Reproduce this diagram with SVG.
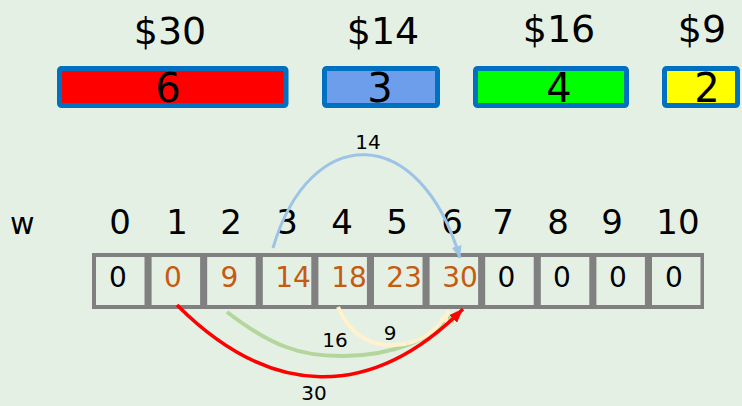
<svg xmlns="http://www.w3.org/2000/svg" width="742" height="406" viewBox="0 0 742 406">
<style>
  text { font-family: "DejaVu Sans", Verdana, sans-serif; fill: #000; }
  .price { font-size: 38px; text-anchor: middle; }
  .item { stroke: #0070C0; stroke-width: 5; }
  .wt { font-size: 40px; text-anchor: middle; }
  .idx { font-size: 34px; text-anchor: middle; }
  .val { font-size: 28px; text-anchor: middle; }
  .or { fill: #C55A11; }
  .cell { fill: #E5F0E4; }
  .lbl { font-size: 20px; text-anchor: middle; }
  .arc { fill: none; stroke-linecap: butt; }
</style>
<defs>
  <marker id="mBlue" viewBox="0 0 12 10" refX="12" refY="5" markerWidth="12" markerHeight="10" markerUnits="userSpaceOnUse" orient="auto"><path d="M0,0 L12,5 L0,10 z" fill="#9DC3E6"/></marker>
  <marker id="mRed" viewBox="0 0 14 11" refX="14" refY="5.5" markerWidth="14" markerHeight="11" markerUnits="userSpaceOnUse" orient="auto"><path d="M0,0 L14,5.5 L0,11 z" fill="#FF0000"/></marker>
  <marker id="mGreen" viewBox="0 0 12 10" refX="12" refY="5" markerWidth="12" markerHeight="10" markerUnits="userSpaceOnUse" orient="auto"><path d="M0,0 L12,5 L0,10 z" fill="#B4D69C"/></marker>
  <marker id="mCream" viewBox="0 0 12 10" refX="12" refY="5" markerWidth="12" markerHeight="10" markerUnits="userSpaceOnUse" orient="auto"><path d="M0,0 L12,5 L0,10 z" fill="#FFF2CC"/></marker>
</defs>
<rect x="0" y="0" width="742" height="406" fill="#E5F0E4"/>

<g id="item-red">
  <text class="price" x="170" y="44">$30</text>
  <rect class="item" x="59.5" y="68.5" width="226.5" height="37" rx="2" fill="#FF0000"/>
  <text class="wt" x="168" y="102">6</text>
</g>
<g id="item-blue">
  <text class="price" x="383" y="44">$14</text>
  <rect class="item" x="324.5" y="68.5" width="113" height="37" rx="2" fill="#6D9EEB"/>
  <text class="wt" x="380" y="102">3</text>
</g>
<g id="item-green">
  <text class="price" x="559" y="42">$16</text>
  <rect class="item" x="475.5" y="68.5" width="151" height="37" rx="2" fill="#00FF00"/>
  <text class="wt" x="559" y="102">4</text>
</g>
<g id="item-yellow">
  <text class="price" x="702" y="42">$9</text>
  <rect class="item" x="664.5" y="68.5" width="73" height="37" rx="2" fill="#FFFF00"/>
  <text class="wt" x="707" y="102">2</text>
</g>

<g id="index-row">
  <text x="10" y="234" style="font-size:30px">w</text>
  <text class="idx" x="120" y="234">0</text>
  <text class="idx" x="177" y="234">1</text>
  <text class="idx" x="231" y="234">2</text>
  <text class="idx" x="287" y="234">3</text>
  <text class="idx" x="342" y="234">4</text>
  <text class="idx" x="397" y="234">5</text>
  <text class="idx" x="452" y="234">6</text>
  <text class="idx" x="503" y="234">7</text>
  <text class="idx" x="558" y="234">8</text>
  <text class="idx" x="612" y="234">9</text>
  <text class="idx" x="678" y="234">10</text>
</g>

<g id="table">
  <rect x="92" y="253" width="612" height="56" fill="#808080"/>
  <rect class="cell" x="96" y="257" width="48.5" height="48"/>
  <rect class="cell" x="151.6" y="257" width="48.5" height="48"/>
  <rect class="cell" x="207.2" y="257" width="48.5" height="48"/>
  <rect class="cell" x="262.8" y="257" width="48.5" height="48"/>
  <rect class="cell" x="318.4" y="257" width="48.5" height="48"/>
  <rect class="cell" x="374" y="257" width="48.5" height="48"/>
  <rect class="cell" x="429.6" y="257" width="48.5" height="48"/>
  <rect class="cell" x="485.2" y="257" width="48.5" height="48"/>
  <rect class="cell" x="540.8" y="257" width="48.5" height="48"/>
  <rect class="cell" x="596.4" y="257" width="48.5" height="48"/>
  <rect class="cell" x="652" y="257" width="48.5" height="48"/>
  <text class="val" x="118" y="287">0</text>
  <text class="val or" x="173" y="287">0</text>
  <text class="val or" x="229.5" y="287">9</text>
  <text class="val or" x="293" y="287">14</text>
  <text class="val or" x="349" y="287">18</text>
  <text class="val or" x="404" y="287">23</text>
  <text class="val or" x="460" y="287">30</text>
  <text class="val" x="506.5" y="287">0</text>
  <text class="val" x="562" y="287">0</text>
  <text class="val" x="618" y="287">0</text>
  <text class="val" x="674" y="287">0</text>
</g>

<g id="connectors">
  <path class="arc" d="M273,248 C310,122 420,122 460,258" stroke="#9DC3E6" stroke-width="3" marker-end="url(#mBlue)"/>
  <path class="arc" d="M227,312 C270,345 300,357 345,356 C395,355 430,340 458,312" stroke="#B4D69C" stroke-width="4" marker-end="url(#mGreen)"/>
  <path class="arc" d="M338,307 C350,335 370,346 395,345 C420,344 438,330 449,311" stroke="#FFF2CC" stroke-width="4" marker-end="url(#mCream)"/>
  <path class="arc" d="M177,305 C270,398 370,402 463,309" stroke="#FF0000" stroke-width="3.5" marker-end="url(#mRed)"/>
  <text class="lbl" x="368" y="149">14</text>
  <text class="lbl" x="335" y="347">16</text>
  <text class="lbl" x="390" y="340">9</text>
  <text class="lbl" x="314" y="400">30</text>
</g>
</svg>
